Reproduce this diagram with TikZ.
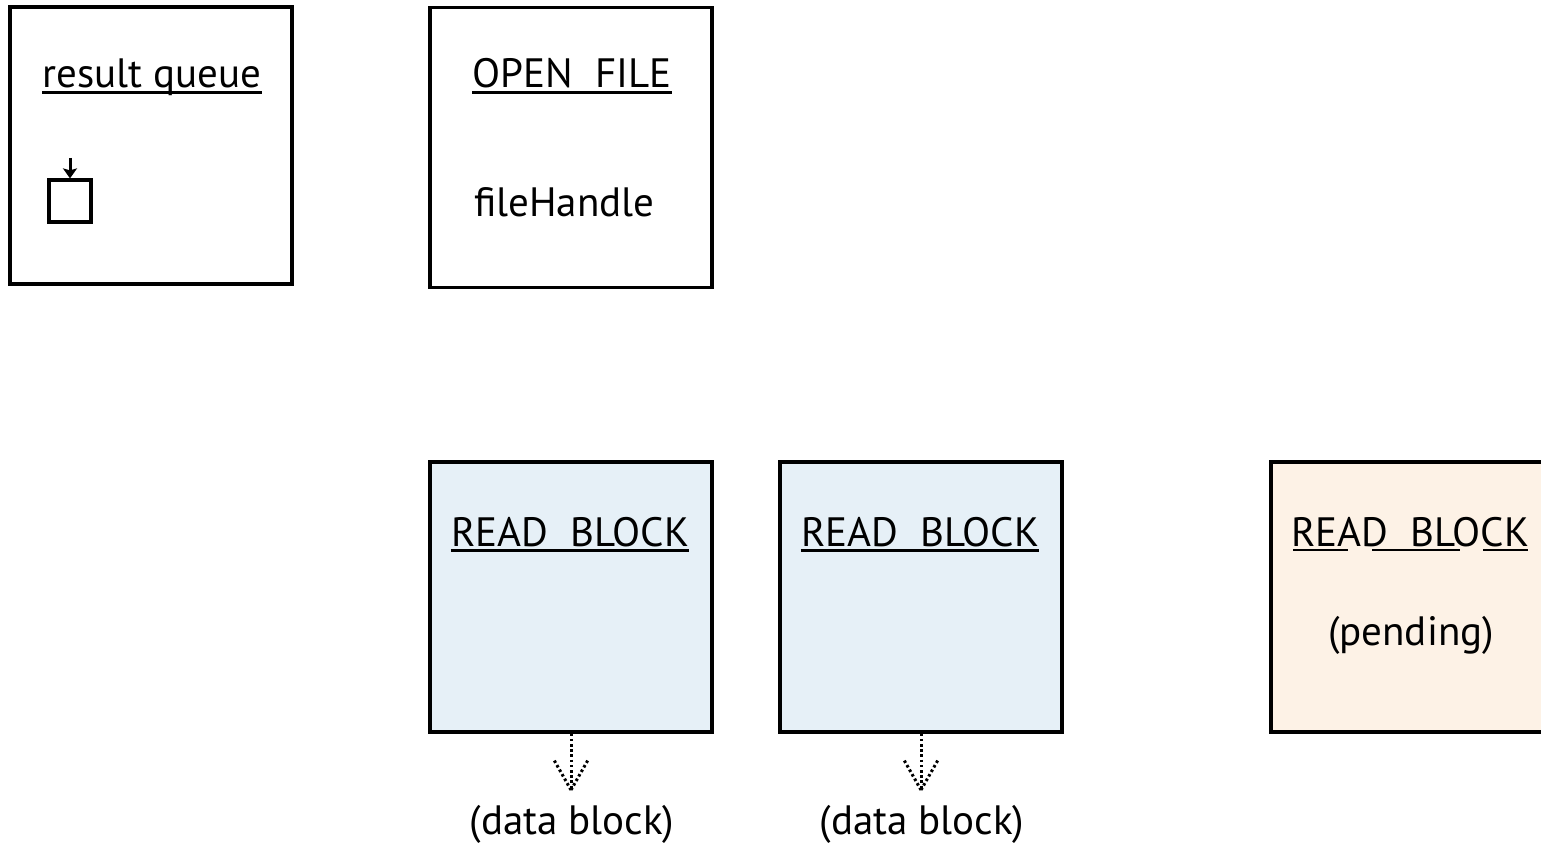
\documentclass[tikz,border=0pt]{standalone}
\usepackage{fontspec}
\setmainfont{PT Sans}
\usetikzlibrary{arrows.meta}
\definecolor{readblue}{HTML}{E6F0F7}
\definecolor{pendbeige}{HTML}{FDF2E6}
\tikzset{
  panel/.style={draw=black, line width=1.6pt, minimum width=141pt, minimum height=140pt, inner sep=0pt},
  label/.style={inner sep=0pt, font=\fontsize{20.5}{24}\selectfont},
  uline/.style={line width=1.2pt},
  flow/.style={line width=1.5pt, dash pattern=on 1.3pt off 1.3pt},
}
\begin{document}
\begin{tikzpicture}[x=0.5pt,y=-0.5pt]
\useasboundingbox (0,0) rectangle (1541,844);

% upper row: result queue and open file
\node[panel, minimum height=138.5pt] (rq) at (151,145.5) {};
\node[panel] (of) at (571,147.5) {};
\node[label, anchor=base] (rqt) at (152,88) {result queue};
\node[label, anchor=base] (oft) at (572,88) {OPEN\ \ FILE};
\node[label, anchor=base west] (fh) at (474,217) {fileHandle};
\draw[uline] ([yshift=-2.2pt]rqt.base west) -- ([yshift=-2.2pt]rqt.base east);
\draw[uline] ([yshift=-2.2pt]oft.base west) -- ([yshift=-2.2pt]oft.base east);

% queue slot with incoming arrow
\node[draw=black, line width=1.6pt, minimum size=21pt, inner sep=0pt] (slot) at (70,201) {};
\coordinate (slotin) at (70,158);
\draw[line width=1.5pt, -{Stealth[length=5pt,width=7pt,inset=1pt]}] (slotin) -- (slot.north);

% lower row: read blocks
\node[panel, fill=readblue, minimum height=135pt] (rb1) at (571,597) {};
\node[panel, fill=readblue, minimum height=135pt] (rb2) at (921,597) {};
\node[panel, fill=pendbeige, minimum height=135pt] (rb3) at (1412,597) {};

\node[label, anchor=base] (rb1t) at (570,546) {READ\ \ BLOCK};
\node[label, anchor=base] (rb2t) at (920,546) {READ\ \ BLOCK};
\node[label, anchor=base] (rb3t) at (1410,546) {READ\ \ BLOCK};
\node[label, anchor=base] (pend) at (1411,645) {(pending)};
\draw[uline] ([yshift=-2.2pt]rb1t.base west) -- ([yshift=-2.2pt]rb1t.base east);
\draw[uline] ([yshift=-2.2pt]rb2t.base west) -- ([yshift=-2.2pt]rb2t.base east);
% broken underline of the pending block
\draw[uline] (1293,550) -- (1348,550);
\draw[uline] (1372,550) -- (1460,550);
\draw[uline] (1483,550) -- (1528,550);

% data blocks leaving the finished reads
\node[label, anchor=base] (d1) at (572,834) {(data block)};
\node[label, anchor=base] (d2) at (922,834) {(data block)};
\coordinate (tip1) at (571,790);
\coordinate (tip2) at (921,790);
\draw[flow] (rb1.south) -- (tip1);
\draw[flow] (tip1) -- ++(-17,-30);
\draw[flow] (tip1) -- ++(17,-30);
\draw[flow] (rb2.south) -- (tip2);
\draw[flow] (tip2) -- ++(-17,-30);
\draw[flow] (tip2) -- ++(17,-30);
\end{tikzpicture}
\end{document}
